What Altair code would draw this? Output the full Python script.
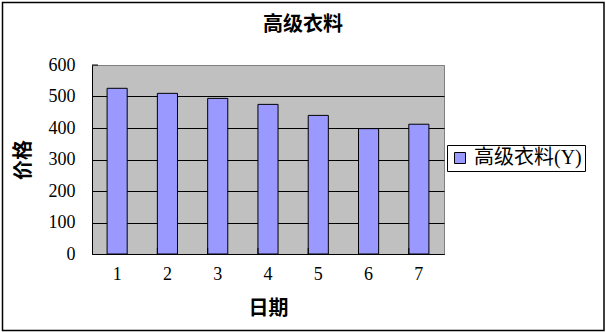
import altair as alt
import pandas as pd

# Daily price of the high-grade fabric
days = ["1", "2", "3", "4", "5", "6", "7"]
prices = [526, 510, 494, 475, 440, 398, 412]
series_name = "高级衣料(Y)"
chart_title = "高级衣料"
y_ticks = [0, 100, 200, 300, 400, 500, 600]

df = pd.DataFrame({"day": days, "price": prices, "series": [series_name] * len(days)})

W, H = 352, 189
LEFT, TOP = 92, 65

SERIF = "Liberation Serif, Noto Sans CJK SC"
CJK = "Noto Sans CJK SC"

x_scale = alt.Scale(domain=days, paddingInner=0.6, paddingOuter=0.3)
y_scale = alt.Scale(domain=[0, 600], nice=False)

x_axis = alt.Axis(
    title="日期",
    labelAngle=0,
    labelFont=SERIF,
    labelFontSize=18,
    labelColor="black",
    labelPadding=11,
    ticks=False,
    domainColor="black",
    domainWidth=1,
    titleFont=CJK,
    titleFontSize=20,
    titleFontWeight="bold",
    titleColor="black",
    titleBaseline="middle",
    titleY=54,
)

y_axis = alt.Axis(
    title="价格",
    values=y_ticks,
    labelOverlap=False,
    labelFont=SERIF,
    labelFontSize=18,
    labelColor="black",
    labelPadding=17,
    ticks=False,
    domainColor="black",
    domainWidth=1,
    grid=True,
    gridColor={
        "condition": {"test": "datum.value === 600", "value": "#808080"},
        "value": "black",
    },
    gridWidth=1,
    gridOpacity=1,
    titleFont=CJK,
    titleFontSize=20,
    titleFontWeight="bold",
    titleColor="black",
    titleAngle=-90,
    titleAlign="center",
    titleBaseline="middle",
    titleX=-69,
    titleY=H / 2,
)

bars = alt.Chart(df).mark_bar(stroke="black", strokeWidth=1).encode(
    x=alt.X("day:N", scale=x_scale, sort=days, axis=x_axis),
    y=alt.Y("price:Q", scale=y_scale, axis=y_axis),
    color=alt.Color(
        "series:N",
        scale=alt.Scale(range=["#9999FF"]),
        legend=alt.Legend(
            title=None,
            orient="none",
            legendX=355,
            legendY=80,
            direction="vertical",
            symbolType="square",
            symbolSize=121,
            symbolStrokeColor="black",
            symbolStrokeWidth=1,
            symbolFillColor="#9999FF",
            labelFont=SERIF,
            labelFontSize=20,
            labelColor="black",
            labelOffset=4,
            strokeColor="black",
            fillColor="white",
            padding=3,
            offset=0,
        ),
    ),
)

# Category separator ticks standing on the x axis
sep = alt.Chart(df).transform_filter(alt.datum.day != "1").mark_rule(
    color="black", strokeWidth=1
).encode(
    x=alt.X("day:N", scale=x_scale, sort=days, bandPosition=0, axis=x_axis),
    y=alt.value(H - 6),
    y2=alt.value(H),
)

# Short tick at the top of the value axis
top_tick = alt.Chart(pd.DataFrame({"k": [0]})).mark_rule(color="black").encode(
    y=alt.value(0),
    x=alt.value(0),
    x2=alt.value(6),
)

# Chart title
title = alt.Chart(pd.DataFrame({"t": [chart_title]})).mark_text(
    font=CJK, fontSize=20, fontWeight="bold", color="black",
    align="center", baseline="middle", clip=False,
).encode(
    text="t:N",
    x=alt.value(303 - LEFT),
    y=alt.value(25 - TOP),
)

# Outer chart frame
frame = alt.Chart(pd.DataFrame({"k": [0]})).mark_rect(
    fill=None, stroke="black", strokeWidth=1.5, clip=False
).encode(
    x=alt.value(2.5 - LEFT),
    x2=alt.value(604 - LEFT),
    y=alt.value(2.5 - TOP),
    y2=alt.value(330.5 - TOP),
)

chart = (
    alt.layer(bars, sep, top_tick, title, frame)
    .properties(
        width=W,
        height=H,
        autosize=alt.AutoSizeParams(type="none"),
        padding={"left": LEFT, "top": TOP, "right": 606 - LEFT - W, "bottom": 332 - TOP - H},
        background="white",
    )
    .configure_view(fill="#C0C0C0", stroke="#808080", strokeWidth=1)
)

chart.save("out.html", embed_options={"renderer": "svg", "actions": False})
